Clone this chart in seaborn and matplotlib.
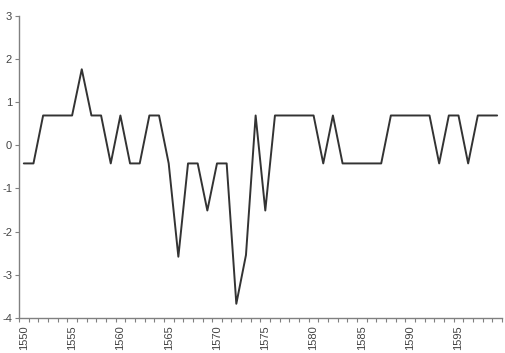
import numpy as np
import pandas as pd
import matplotlib
matplotlib.use("Agg")
import matplotlib.pyplot as plt
import seaborn as sns
from matplotlib.ticker import FixedLocator, NullFormatter

years = list(range(1550, 1600))
values = [
    -0.42, -0.42, 0.69, 0.69, 0.69, 0.69, 1.76, 0.69, 0.69, -0.42,
    0.69, -0.42, -0.42, 0.69, 0.69, -0.42, -2.58, -0.42, -0.42, -1.51,
    -0.42, -0.42, -3.67, -2.54, 0.69, -1.51, 0.69, 0.69, 0.69, 0.69,
    0.69, -0.42, 0.69, -0.42, -0.42, -0.42, -0.42, -0.42, 0.69, 0.69,
    0.69, 0.69, 0.69, -0.42, 0.69, 0.69, -0.42, 0.69, 0.69, 0.69,
]
label_years = [1550, 1555, 1560, 1565, 1570, 1575, 1580, 1585, 1590, 1595]
y_ticks = [-4, -3, -2, -1, 0, 1, 2, 3]

df = pd.DataFrame({"year": years, "value": values})

sns.set_theme(style="white")
plt.rcParams["font.family"] = ["Liberation Sans", "DejaVu Sans"]

fig = plt.figure(figsize=(5.06, 3.53), dpi=100)
ax = fig.add_axes([0.0375, 0.099, 0.9545, 0.8565])

sns.lineplot(data=df, x="year", y="value", ax=ax, color="#333333", linewidth=1.4)

ax.set_xlim(years[0] - 0.5, years[-1] + 0.5)
ax.set_ylim(-4, 3)
ax.set_xlabel("")
ax.set_ylabel("")

axis_color = "#808080"
for side in ["top", "right"]:
    ax.spines[side].set_visible(False)
for side in ["left", "bottom"]:
    ax.spines[side].set_color(axis_color)
    ax.spines[side].set_linewidth(1.0)

ax.set_yticks(y_ticks)
ax.set_yticklabels([str(v) for v in y_ticks])
ax.tick_params(axis="y", which="major", direction="out", length=3, width=0.8,
               color=axis_color, labelsize=8, labelcolor="#444444", pad=2, left=True)

ax.set_xticks(label_years)
ax.set_xticklabels([str(y) for y in label_years], rotation=90)
ax.tick_params(axis="x", which="major", length=0, labelsize=8, labelcolor="#444444", pad=5)
ax.xaxis.set_minor_locator(FixedLocator([y - 0.5 for y in years] + [years[-1] + 0.5]))
ax.xaxis.set_minor_formatter(NullFormatter())
ax.tick_params(axis="x", which="minor", direction="out", length=3, width=0.8,
               color=axis_color, bottom=True)
ax.grid(False)

fig.savefig("out.png", dpi=100)
